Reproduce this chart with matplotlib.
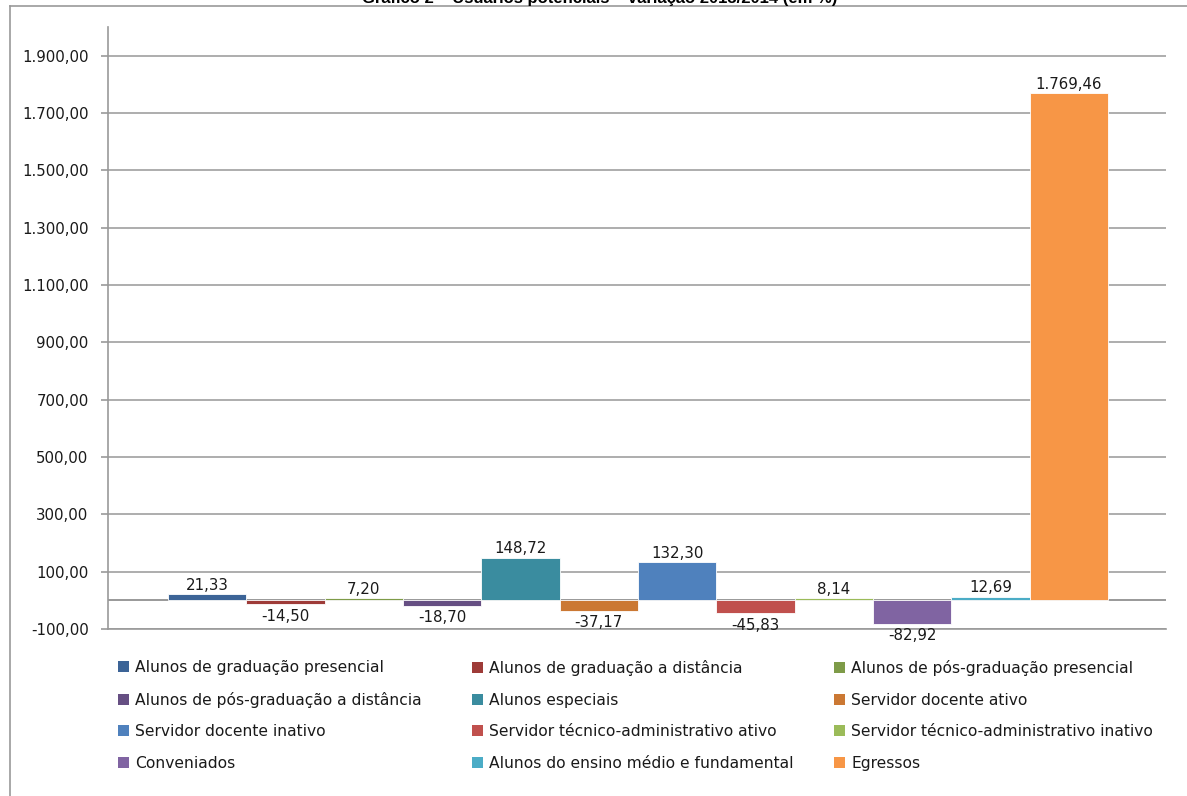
import numpy as np
import matplotlib
matplotlib.use('Agg')
from matplotlib import pyplot as plt
from matplotlib.lines import Line2D
from matplotlib.patches import Patch

# categorias (cada uma e uma serie no grafico original)
categorias = ['Alunos de graduação presencial',
              'Alunos de graduação a distância',
              'Alunos de pós-graduação presencial',
              'Alunos de pós-graduação a distância',
              'Alunos especiais',
              'Servidor docente ativo',
              'Servidor docente inativo',
              'Servidor técnico-administrativo ativo',
              'Servidor técnico-administrativo inativo',
              'Conveniados',
              'Alunos do ensino médio e fundamental',
              'Egressos']
variacao = [21.33, -14.50, 7.20, -18.70, 148.72, -37.17,
            132.30, -45.83, 8.14, -82.92, 12.69, 1769.46]
cores = ['#3C6497', '#9E3B38', '#7E9B48', '#664F83', '#3A8C9F', '#CB7833',
         '#4F81BD', '#C0504D', '#9BBB59', '#8064A2', '#4BACC6', '#F79646']
ticks_y = np.arange(-100, 2000, 200)


def br(v, nd=2):
    # formato brasileiro: 1.769,46
    s = f'{v:,.{nd}f}'
    return s.replace(',', 'X').replace('.', ',').replace('X', '.')


plt.rcParams['font.family'] = 'DejaVu Sans'
fig = plt.figure(figsize=(11.87, 7.96), dpi=100)
ax = fig.add_axes([108/1187, 1 - 629/796, (1166-108)/1187, (629-27)/796])

x = np.arange(len(variacao))
bars = ax.bar(x, variacao, width=1.0, color=cores, edgecolor='white',
              linewidth=0.6, zorder=3)

for xi, v in zip(x, variacao):
    if v >= 0:
        ax.annotate(br(v), (xi, v), xytext=(0, 1), textcoords='offset points',
                    ha='center', va='bottom', fontsize=10.8, color='#1a1a1a', zorder=4)
    else:
        ax.annotate(br(v), (xi, v), xytext=(0, -3), textcoords='offset points',
                    ha='center', va='top', fontsize=10.8, color='#1a1a1a', zorder=4)

ax.set_xlim(-0.5 - 60/78.3, 11.5 + 58/78.3)
ax.set_ylim(-100, 2000)
ax.set_yticks(ticks_y)
ax.set_yticklabels([br(t) for t in ticks_y], fontsize=10.8, color='#1a1a1a')
ax.set_xticks([])
ax.yaxis.grid(True, color='#A0A0A0', linewidth=1.2, zorder=0)
ax.axhline(0, color='#888888', linewidth=1.2, zorder=2)
ax.tick_params(axis='y', length=5, color='#999999', width=1.2, pad=9)
for s in ['top', 'right']:
    ax.spines[s].set_visible(False)
for s in ['left', 'bottom']:
    ax.spines[s].set_color('#999999')
    ax.spines[s].set_linewidth(1.2)

# legenda em tres colunas (ordem por linhas, como no Excel)
handles = [Patch(facecolor=c, edgecolor='none') for c in cores]
col_x = [112, 466, 828]
for j in range(3):
    fig.legend(handles[j::3], categorias[j::3], loc='upper left',
               bbox_to_anchor=(col_x[j]/1187, 1 - 654/796),
               frameon=False, fontsize=11.2, handlelength=0.7,
               handleheight=0.7, handletextpad=0.4, labelspacing=1.06,
               borderaxespad=0, labelcolor='#1a1a1a')

# moldura e titulo cortado no topo
fig.add_artist(Line2D([10/1187, 1], [1 - 6/796, 1 - 6/796],
                      color='#999999', linewidth=1.2, transform=fig.transFigure))
fig.add_artist(Line2D([10/1187, 10/1187], [0, 1 - 6/796],
                      color='#999999', linewidth=1.2, transform=fig.transFigure))
fig.text(600/1187, 1 - 3/796, 'Gráfico 2 – Usuários potenciais – variação 2013/2014 (em %)',
         ha='center', va='baseline', fontsize=12, fontweight='bold',
         family='Liberation Sans')

fig.savefig('out.png', dpi=100, facecolor='white')
